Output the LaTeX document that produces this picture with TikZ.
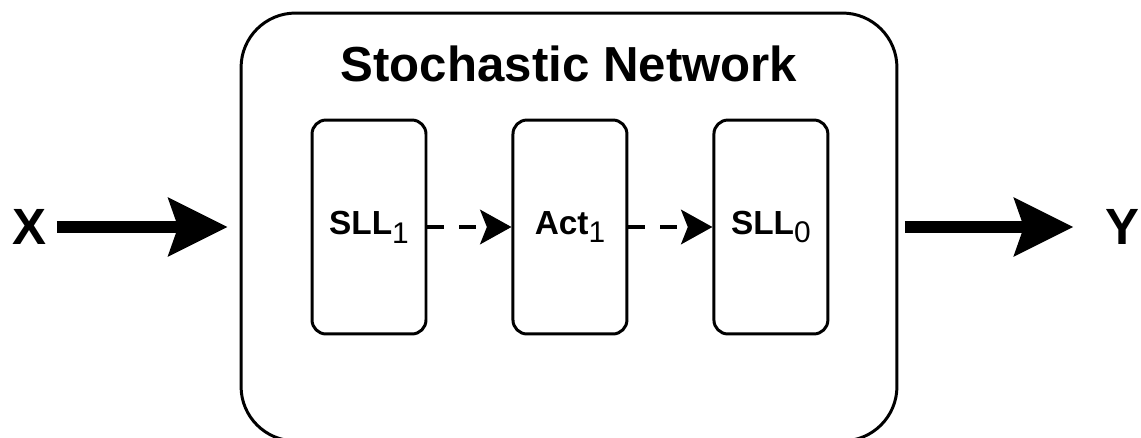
\documentclass[tikz,border=0pt]{standalone}
\usepackage{fontspec}
\setmainfont{Liberation Sans}
\usetikzlibrary{arrows.meta,positioning}

\newcommand{\layersub}[1]{\raisebox{-5pt}{\fontsize{17}{17}\selectfont\mdseries #1}}

\begin{document}
\begin{tikzpicture}[x=0.02cm,y=-0.02cm,
    netbox/.style={draw, line width=1.7pt, rounded corners=31pt,
      minimum width=13.12cm, minimum height=8.56cm, inner sep=0pt},
    layer/.style={draw, line width=1.7pt, rounded corners=8pt,
      minimum width=2.28cm, minimum height=4.28cm, inner sep=0pt,
      font=\bfseries\fontsize{19}{23}\selectfont},
    bigarrow/.style={line width=6.8pt,
      -{Stealth[length=34pt,width=34pt,inset=6pt,line width=0pt]}},
    dasharrow/.style={line width=2.6pt, dash pattern=on 9.6pt off 8.5pt,
      -{Stealth[length=18pt,width=20pt,inset=4pt,line width=0pt]}},
    iolabel/.style={inner sep=6pt, font=\bfseries\fontsize{29}{34}\selectfont}
  ]
  \path[use as bounding box] (0,0) rectangle (1141,437);

  % outer block
  \node[netbox] (net) at (569,227) {};
  \node[font=\bfseries\fontsize{28}{33}\selectfont] (title) at (569,64) {Stochastic Network};

  % layers
  \node[layer] (sll1) at (369,227) {SLL\layersub{1}};
  \node[layer, right=1.68cm of sll1] (act1) {Act\layersub{1}};
  \node[layer, right=1.68cm of act1] (sll0) {SLL\layersub{0}};

  \draw[dasharrow] (sll1.east) -- (act1.west);
  \draw[dasharrow] (act1.east) -- (sll0.west);

  % input / output
  \node[iolabel] (xin) at (29,227) {X};
  \node[iolabel] (yout) at (1122,227) {Y};

  \draw[bigarrow, shorten >=7pt] (xin.east) -- (net.west);
  \draw[bigarrow, shorten <=3.7pt, shorten >=12pt] (net.east) -- (yout.west);
\end{tikzpicture}
\end{document}
